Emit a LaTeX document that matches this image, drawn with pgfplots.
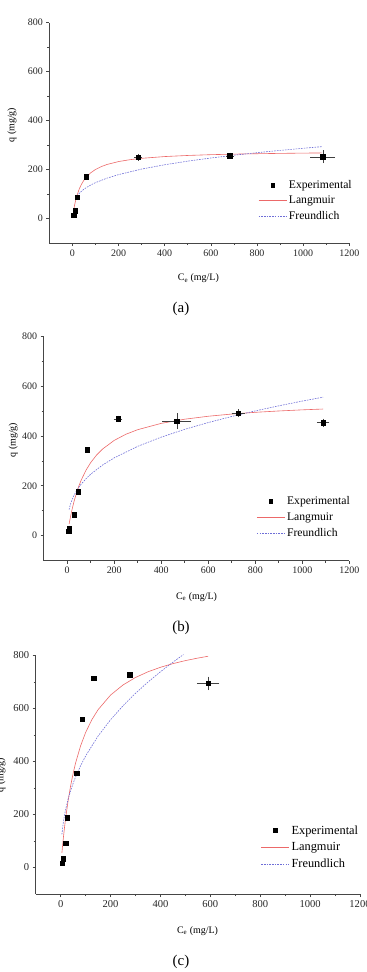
\documentclass[border=0pt]{standalone}
\usepackage{fontspec}
\setmainfont{Liberation Serif}
\usepackage{pgfplots}
\pgfplotsset{compat=1.18}
\usepackage{pgfplotstable}

\definecolor{langc}{RGB}{236,105,105}
\definecolor{freuc}{RGB}{110,110,215}
\definecolor{axc}{RGB}{70,70,70}

\pgfplotstableread{
x y ex ey
5.8 15 0 0
11 33 0 0
20 88 0 0
60.6 171 0 0
285.6 250 8 6
682 257 8 5
1085 253 45 18
}\expA
\pgfplotstableread{
x y
5 32.0
10 57.4
15 78.0
20 95.1
30 121.8
40 141.7
50 157.1
60 169.4
80 187.7
100 200.8
125 212.6
150 221.3
200 233.2
250 240.9
300 246.4
400 253.6
500 258.1
600 261.3
700 263.5
800 265.2
900 266.6
1000 267.7
1080 268.4
}\langA
\pgfplotstableread{
x y
20 92.1
30 103.6
40 112.6
50 120.2
60 126.7
80 137.8
100 147.1
150 165.5
200 179.9
300 202.5
400 220.1
500 234.9
600 247.7
700 259.1
800 269.3
900 278.7
1000 287.4
1080 293.9
}\freuA

\pgfplotstableread{
x y ex ey
6.8 18 0 0
9.5 31 0 0
29 84 0 0
48 177 0 0
85 344 0 0
216 468 10 5
466 459 53 24
728 491 20 8
1089 453 18 8
}\expB
\pgfplotstableread{
x y
8 46.2
10 56.5
15 80.6
20 102.5
30 140.6
40 172.7
50 200.1
60 223.7
80 262.6
100 293.1
125 323.2
150 346.9
200 381.9
250 406.6
300 424.8
400 450.1
500 466.8
600 478.6
700 487.4
800 494.3
900 499.7
1000 504.2
1089 507.5
}\langB
\pgfplotstableread{
x y
8 104.4
10 112.7
15 129.3
20 142.6
30 163.7
40 180.5
50 194.8
60 207.2
80 228.5
100 246.5
150 282.9
200 312.0
300 358.1
400 394.9
500 426.2
600 453.3
700 477.7
800 500.0
900 520.3
1000 539.3
1089 555.1
}\freuB

\pgfplotstableread{
x y ex ey
5.3 16 0 0
10.7 33 0 0
20 91 0 0
26.7 188 0 0
64 355 0 0
85.4 559 0 0
132 713 0 0
277.6 727 0 0
591 694 37 18
}\expC
\pgfplotstableread{
x y
5 54.9
10 103.5
15 146.9
20 185.7
30 252.5
40 307.9
50 354.5
60 394.4
80 458.8
100 508.7
125 557.1
150 594.9
200 650.0
250 688.2
300 716.3
350 737.8
400 754.8
450 768.6
500 780.0
550 789.6
591 796.4
}\langC
\pgfplotstableread{
x y
5 124.5
10 165.0
15 194.6
20 218.7
30 257.8
40 289.8
50 317.3
60 341.6
80 383.9
100 420.3
150 495.5
200 556.9
250 609.7
300 656.6
350 699.0
400 737.9
450 774.0
492.5 803.0
}\freuC

\pgfplotsset{
 panel/.style={
  scale only axis, xmin=-100,xmax=1200,ymin=-100,ymax=800,
  axis x line=bottom, axis y line=left,
  axis line style={-,axc,line width=0.7bp},
  xtick={0,200,...,1200}, ytick={0,200,...,800},
  minor x tick num=1, minor y tick num=1,
  tick align=outside, major tick length=3bp, minor tick length=2bp,
  tick style={axc,line width=0.6bp},
  /pgf/number format/assume math mode=true,
  /pgf/number format/1000 sep={},
  ticklabel style={text=black!85},
  legend style={draw=none,fill=none,inner sep=0pt,legend cell align=left},
  legend image code/.code={\draw[mark repeat=2,mark phase=2,##1] plot coordinates {(0bp,0bp)(14bp,0bp)(28bp,0bp)};},
  clip=false,
 },
 langs/.style={langc,line width=0.6bp,no marks},
 freus/.style={freuc,line width=0.6bp,dash pattern=on 1.6bp off 1.1bp,no marks},
 expts/.style={only marks,mark=square*,mark size=2.2bp,black},
 errs/.style={error bars/x dir=both, error bars/x explicit, error bars/y dir=both, error bars/y explicit,
   error bars/error bar style={black!75,line width=0.4bp},
   error bars/error mark options={black!75,mark size=2bp,line width=0.4bp}},
}

\begin{document}
\begin{tikzpicture}
\useasboundingbox (0bp,0bp) rectangle (367bp,972bp);

% ---------- (a)
\begin{axis}[panel, at={(49.3bp,728.8bp)}, anchor=south west, width=300bp, height=220.5bp,
  ticklabel style={font=\fontsize{10}{12}\selectfont},
  label style={font=\fontsize{12.5}{14}\selectfont},
  legend style={font=\fontsize{11.7}{13.5}\selectfont, row sep=2.2bp, at={(rel axis cs:0.696,0.295)}, anchor=north west},
  every axis x label/.style={at={(axis description cs:0.497,-0.16)},anchor=center},
  every axis y label/.style={at={(axis description cs:-0.124,0.536)},anchor=center,rotate=90},
  xlabel={C\textsubscript{e} (mg/L)}, ylabel={q (mg/g)}]
\addlegendimage{expts,mark size=1.8bp}\addlegendentry{Experimental}
\addlegendimage{langs}\addlegendentry{Langmuir}
\addlegendimage{freus}\addlegendentry{Freundlich}
\addplot[langs, forget plot] table[x=x,y=y] {\langA};
\addplot[freus, forget plot] table[x=x,y=y] {\freuA};
\addplot[expts, forget plot, errs] table[x=x,y=y,x error=ex,y error=ey] {\expA};
\end{axis}
\node[font=\fontsize{15}{17}\selectfont] at (181bp,663bp) {(a)};

% ---------- (b)
\begin{axis}[panel, at={(43.7bp,411.3bp)}, anchor=south west, width=305.6bp, height=224.7bp,
  ticklabel style={font=\fontsize{10}{12}\selectfont},
  label style={font=\fontsize{12.5}{14}\selectfont},
  legend style={font=\fontsize{11.7}{13.5}\selectfont, row sep=2.5bp, at={(rel axis cs:0.6957,0.296)}, anchor=north west},
  every axis x label/.style={at={(axis description cs:0.5,-0.162)},anchor=center},
  every axis y label/.style={at={(axis description cs:-0.0995,0.537)},anchor=center,rotate=90},
  xlabel={C\textsubscript{e} (mg/L)}, ylabel={q (mg/g)}]
\addlegendimage{expts,mark size=1.8bp}\addlegendentry{Experimental}
\addlegendimage{langs}\addlegendentry{Langmuir}
\addlegendimage{freus}\addlegendentry{Freundlich}
\addplot[langs, forget plot] table[x=x,y=y] {\langB};
\addplot[freus, forget plot] table[x=x,y=y] {\freuB};
\addplot[expts, forget plot, errs] table[x=x,y=y,x error=ex,y error=ey] {\expB};
\end{axis}
\node[font=\fontsize{15}{17}\selectfont] at (181bp,344bp) {(b)};

% ---------- (c)
\begin{axis}[panel, at={(35.7bp,78bp)}, anchor=south west, width=324.3bp, height=238.7bp,
  ticklabel style={font=\fontsize{10.6}{12.5}\selectfont},
  label style={font=\fontsize{13.2}{15}\selectfont},
  legend style={font=\fontsize{12.4}{14}\selectfont, row sep=2.9bp, at={(rel axis cs:0.694,0.296)}, anchor=north west},
  every axis x label/.style={at={(axis description cs:0.499,-0.155)},anchor=center},
  every axis y label/.style={at={(axis description cs:-0.107,0.4985)},anchor=center,rotate=90},
  xlabel={C\textsubscript{e} (mg/L)}, ylabel={q (mg/g)}]
\addlegendimage{expts,mark size=1.9bp}\addlegendentry{Experimental}
\addlegendimage{langs}\addlegendentry{Langmuir}
\addlegendimage{freus}\addlegendentry{Freundlich}
\addplot[langs, forget plot] table[x=x,y=y] {\langC};
\addplot[freus, forget plot] table[x=x,y=y] {\freuC};
\addplot[expts, forget plot, errs] table[x=x,y=y,x error=ex,y error=ey] {\expC};
\end{axis}
\node[font=\fontsize{15}{17}\selectfont] at (181bp,10.3bp) {(c)};
\end{tikzpicture}
\end{document}
